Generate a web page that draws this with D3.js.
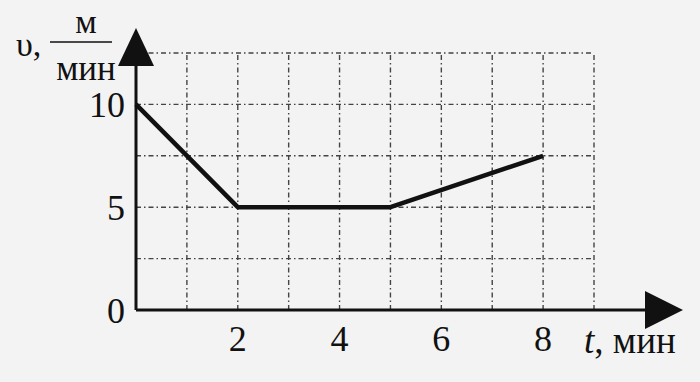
<!DOCTYPE html>
<html>
<head>
<meta charset="utf-8">
<script src="https://cdn.jsdelivr.net/npm/d3@7"></script>
<style>
  html, body { margin: 0; padding: 0; background: #f3f3f3; }
  svg { display: block; }
  text { font-family: "Liberation Serif", "DejaVu Serif", serif; fill: #111; }
</style>
</head>
<body>
<div id="chart"></div>
<script>
// данные графика скорости
const times = [0, 2, 5, 8];
const speeds = [10, 5, 5, 7.5];
const xTicks = [2, 4, 6, 8];
const yTicks = [0, 5, 10];
const xGrid = [1, 2, 3, 4, 5, 6, 7, 8, 9];
const yGrid = [2.5, 5, 7.5, 10, 12.5];

const width = 700, height = 382;
const svg = d3.select("#chart").append("svg")
  .attr("width", width).attr("height", height);

const x = d3.scaleLinear().domain([0, 9]).range([136, 594]);
const y = d3.scaleLinear().domain([0, 12.5]).range([310, 53]);

// сетка
svg.append("g").selectAll("line.v")
  .data(xGrid).join("line")
  .attr("x1", d => x(d)).attr("x2", d => x(d))
  .attr("y1", y(0)).attr("y2", y(12.5))
  .attr("stroke", "#444").attr("stroke-width", 1.4)
  .attr("stroke-dasharray", "5,3,1.5,3");

svg.append("g").selectAll("line.h")
  .data(yGrid).join("line")
  .attr("x1", x(0)).attr("x2", x(9))
  .attr("y1", d => y(d)).attr("y2", d => y(d))
  .attr("stroke", "#444").attr("stroke-width", 1.4)
  .attr("stroke-dasharray", "5,3,1.5,3");

// оси
svg.append("line")
  .attr("x1", x(0)).attr("x2", 650)
  .attr("y1", y(0)).attr("y2", y(0))
  .attr("stroke", "#111").attr("stroke-width", 3);
svg.append("line")
  .attr("x1", x(0)).attr("x2", x(0))
  .attr("y1", y(0)).attr("y2", 60)
  .attr("stroke", "#111").attr("stroke-width", 3);

// стрелки
svg.append("path")
  .attr("d", `M${x(0)},28 L${x(0) - 18},66 L${x(0) + 18},66 Z`)
  .attr("fill", "#111");
svg.append("path")
  .attr("d", `M683,${y(0)} L645,${y(0) - 19} L645,${y(0) + 19} Z`)
  .attr("fill", "#111");

// линия графика
const pts = times.map((t, i) => [t, speeds[i]]);
svg.append("path")
  .datum(pts)
  .attr("d", d3.line().x(d => x(d[0])).y(d => y(d[1])))
  .attr("fill", "none").attr("stroke", "#111")
  .attr("stroke-width", 4.5).attr("stroke-linejoin", "round");

// подписи делений
svg.append("g").selectAll("text")
  .data(xTicks).join("text")
  .attr("x", d => x(d)).attr("y", 351)
  .attr("text-anchor", "middle").attr("font-size", 36)
  .text(d => d);

svg.append("g").selectAll("text")
  .data(yTicks).join("text")
  .attr("x", 125).attr("y", d => y(d) + 13)
  .attr("text-anchor", "end").attr("font-size", 36)
  .text(d => d);

// подписи осей
svg.append("text")
  .attr("x", 16).attr("y", 56).attr("font-size", 34)
  .text("υ,");
svg.append("text")
  .attr("x", 86).attr("y", 33).attr("font-size", 34)
  .attr("text-anchor", "middle").text("м");
svg.append("line")
  .attr("x1", 50).attr("x2", 112).attr("y1", 42).attr("y2", 42)
  .attr("stroke", "#111").attr("stroke-width", 1.5);
svg.append("text")
  .attr("x", 86).attr("y", 80).attr("font-size", 35)
  .attr("text-anchor", "middle").text("мин");

const xl = svg.append("text")
  .attr("x", 584).attr("y", 353).attr("font-size", 37);
xl.append("tspan").attr("font-style", "italic").text("t");
xl.append("tspan").text(", мин");
</script>
</body>
</html>
